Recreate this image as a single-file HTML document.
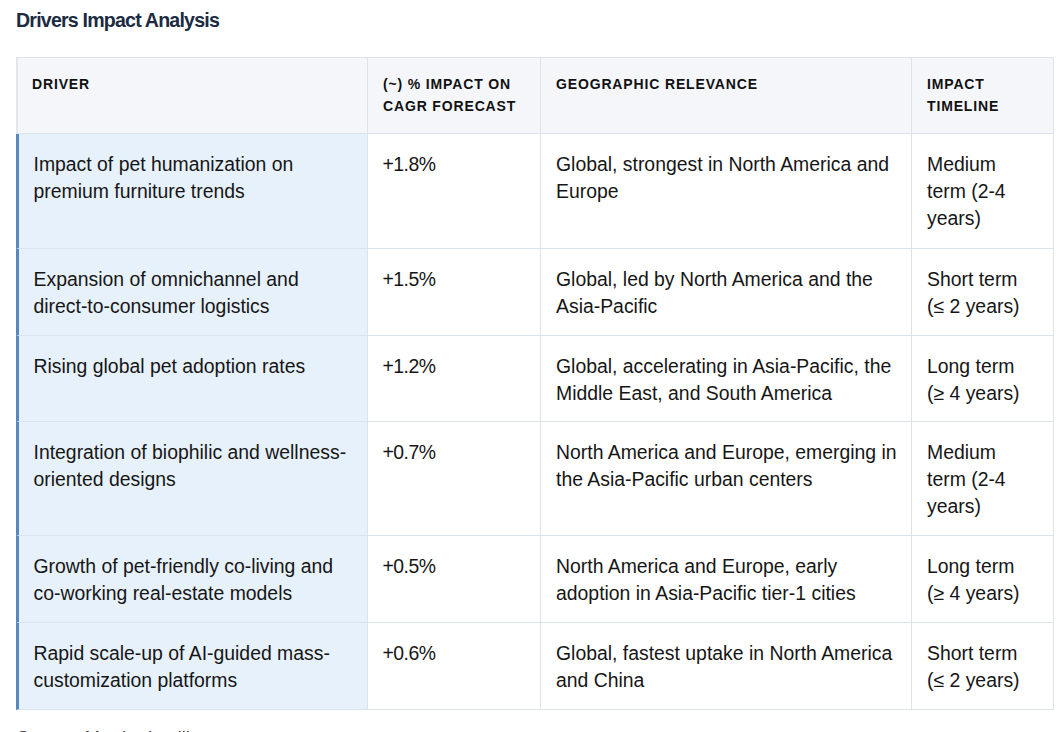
<!DOCTYPE html>
<html><head><meta charset="utf-8">
<style>
html,body{margin:0;padding:0;background:#fff;}
body{width:1063px;height:732px;overflow:hidden;position:relative;font-family:"Liberation Sans",sans-serif;color:#161616;}
.title{position:absolute;left:16px;top:8px;font-size:19.6px;letter-spacing:-0.8px;font-weight:bold;color:#1b2b42;white-space:nowrap;line-height:24px;}
table{position:absolute;left:16px;top:57px;border-collapse:separate;border-spacing:0;table-layout:fixed;width:1038px;}
td,th{border-right:1px solid #dde3eb;border-bottom:1px solid #dde3eb;padding:0 0 0 15px;vertical-align:top;text-align:left;white-space:nowrap;box-sizing:border-box;}
th{border-top:1px solid #dde3eb;background:#f4f6fa;font-size:14px;font-weight:bold;letter-spacing:0.85px;line-height:22.7px;height:77px;padding-top:14.5px;color:#111;}
td{font-size:19.4px;line-height:27.4px;padding-top:16.6px;}
th:first-child{border-left:2px solid #e3e7ed;padding-left:14px;}
td.n{letter-spacing:-0.5px;padding-left:14.5px;}
td.d{background:#e7f1fb;border-left:3px solid #5589bf;padding-left:17px;}
td.d{padding-left:14.5px;}
.src{position:absolute;left:17px;top:728px;font-size:18.2px;line-height:20px;color:#444;white-space:nowrap;}
</style></head><body>
<div class="title">Drivers Impact Analysis</div>
<table>
<colgroup><col style="width:352px"><col style="width:173px"><col style="width:371px"><col style="width:142px"></colgroup>
<tr><th>DRIVER</th><th>(~) % IMPACT ON<br>CAGR FORECAST</th><th>GEOGRAPHIC RELEVANCE</th><th>IMPACT<br>TIMELINE</th></tr>
<tr style="height:115px"><td class="d">Impact of pet humanization on<br>premium furniture trends</td><td class="n">+1.8%</td><td>Global, strongest in North America and<br>Europe</td><td>Medium<br>term (2-4<br>years)</td></tr>
<tr style="height:87px"><td class="d">Expansion of omnichannel and<br>direct-to-consumer logistics</td><td class="n">+1.5%</td><td>Global, led by North America and the<br>Asia-Pacific</td><td>Short term<br>(≤ 2 years)</td></tr>
<tr style="height:86px"><td class="d">Rising global pet adoption rates</td><td class="n">+1.2%</td><td>Global, accelerating in Asia-Pacific, the<br>Middle East, and South America</td><td>Long term<br>(≥ 4 years)</td></tr>
<tr style="height:114px"><td class="d">Integration of biophilic and wellness-<br>oriented designs</td><td class="n">+0.7%</td><td>North America and Europe, emerging in<br>the Asia-Pacific urban centers</td><td>Medium<br>term (2-4<br>years)</td></tr>
<tr style="height:87px"><td class="d">Growth of pet-friendly co-living and<br>co-working real-estate models</td><td class="n">+0.5%</td><td>North America and Europe, early<br>adoption in Asia-Pacific tier-1 cities</td><td>Long term<br>(≥ 4 years)</td></tr>
<tr style="height:87px"><td class="d">Rapid scale-up of AI-guided mass-<br>customization platforms</td><td class="n">+0.6%</td><td>Global, fastest uptake in North America<br>and China</td><td>Short term<br>(≤ 2 years)</td></tr>
</table>
<div class="src">Source: Mordor Intelligence</div>
</body></html>
